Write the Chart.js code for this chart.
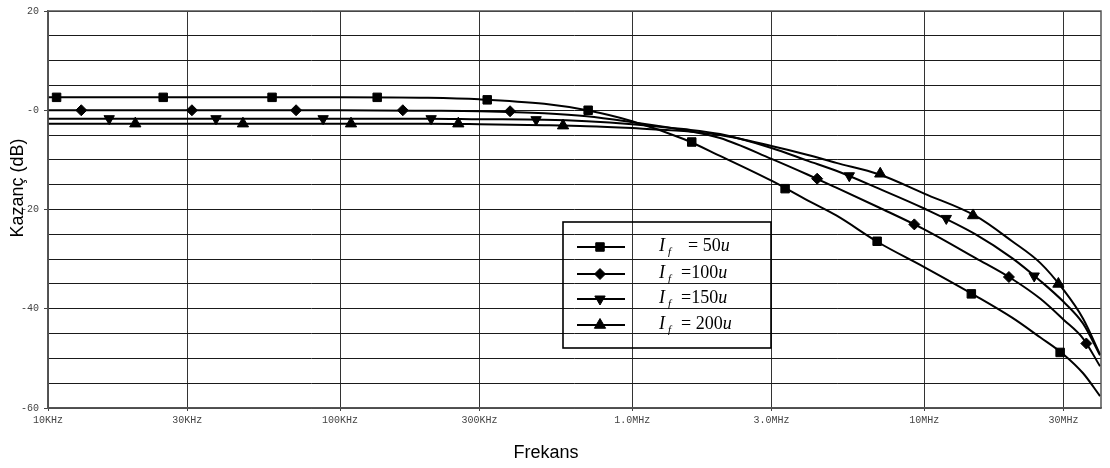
<!DOCTYPE html>
<html><head><meta charset="utf-8">
<script src="https://cdn.jsdelivr.net/npm/chart.js@4.4.1/dist/chart.umd.min.js"></script>
<style>html,body{margin:0;padding:0;background:#fff;}canvas{display:block;}</style>
</head><body>
<canvas id="c" width="1110" height="468"></canvas>
<script>
// ---- data ----
const freq = [1e4, 1e5, 2e5, 3e5, 5e5, 7e5, 1e6, 1.5e6, 2e6, 3e6, 4e6, 5e6, 7e6, 1e7, 1.5e7, 2e7, 2.5e7, 3e7, 3.5e7, 4e7];
const gain50  = [2.6, 2.6, 2.5, 2.2, 1.3, 0.0, -2.2, -5.8, -9.2, -14.2, -18.2, -21.2, -26.7, -31.6, -37.4, -41.8, -45.8, -49.2, -53.0, -57.6];
const gain100 = [0, 0, -0.1, -0.2, -0.6, -1.2, -2.4, -4.0, -5.6, -9.8, -13.0, -15.6, -19.6, -24.0, -29.8, -34.0, -38.0, -42.2, -46.0, -51.6];
const gain150 = [-1.7, -1.7, -1.7, -1.8, -1.9, -2.2, -2.8, -3.8, -4.8, -7.6, -10.2, -12.2, -15.8, -19.8, -25.0, -29.8, -34.4, -38.6, -43.0, -49.4];
const gain200 = [-2.7, -2.7, -2.7, -2.8, -3.0, -3.2, -3.6, -4.2, -5.0, -7.2, -9.0, -10.6, -12.9, -16.8, -21.3, -26.4, -30.8, -36.2, -42.0, -49.2];

const mark50F  = [10.7e3, 24.8e3, 58.5e3, 134e3, 319e3, 707e3, 1.6e6, 3.34e6, 6.9e6, 14.5e6, 29.2e6];
const mark50G  = [2.6, 2.6, 2.6, 2.6, 2.1, 0.0, -6.4, -15.8, -26.4, -37.0, -48.8];
const mark100F = [13e3, 31.1e3, 70.7e3, 164e3, 382e3, 4.3e6, 9.25e6, 19.5e6, 35.9e6];
const mark100G = [0, 0, 0, 0, -0.2, -13.8, -23.0, -33.6, -47.0];
const mark150F = [16.2e3, 37.6e3, 87.5e3, 205e3, 469e3, 5.54e6, 11.9e6, 23.8e6];
const mark150G = [-1.7, -1.7, -1.7, -1.7, -1.9, -13.2, -21.8, -33.4];
const mark200F = [19.9e3, 46.5e3, 109e3, 254e3, 580e3, 7.07e6, 14.7e6, 28.8e6];
const mark200G = [-2.7, -2.7, -2.7, -2.7, -3.1, -12.8, -21.2, -35.0];

const tickFreqs  = [1e4, 3e4, 1e5, 3e5, 1e6, 3e6, 1e7, 3e7];
const tickLabels = ['10KHz', '30KHz', '100KHz', '300KHz', '1.0MHz', '3.0MHz', '10MHz', '30MHz'];
const legendEq   = ['= 50', '=100', '=150', '= 200'];
const xTitle = 'Frekans';
const yTitle = 'Kazanç (dB)';

// ---- chart ----
const styles = [
  {pointStyle: 'rect', radius: 6, rotation: 0},
  {pointStyle: 'rectRot', radius: 5.5, rotation: 0},
  {pointStyle: 'triangle', radius: 6, rotation: 180},
  {pointStyle: 'triangle', radius: 6.5, rotation: 0}
];
const curves = [gain50, gain100, gain150, gain200];
const marks = [[mark50F, mark50G], [mark100F, mark100G], [mark150F, mark150G], [mark200F, mark200G]];

const datasets = [];
curves.forEach((g) => {
  datasets.push({
    data: freq.map((f, i) => ({x: f, y: g[i]})),
    borderColor: '#000', borderWidth: 2, pointRadius: 0,
    cubicInterpolationMode: 'monotone', fill: false
  });
});
marks.forEach((m, k) => {
  datasets.push({
    data: m[0].map((f, i) => ({x: f, y: m[1][i]})),
    showLine: false,
    pointStyle: styles[k].pointStyle, pointRadius: styles[k].radius,
    pointRotation: styles[k].rotation,
    pointBackgroundColor: '#000', pointBorderColor: '#000', pointBorderWidth: 1
  });
});

function drawMarker(ctx, st, x, y) {
  ctx.save();
  ctx.translate(x, y);
  ctx.rotate(st.rotation * Math.PI / 180);
  ctx.beginPath();
  const r = st.radius;
  if (st.pointStyle === 'rect') {
    const s = Math.SQRT1_2 * r;
    ctx.rect(-s, -s, 2 * s, 2 * s);
  } else if (st.pointStyle === 'rectRot') {
    ctx.moveTo(0, -r); ctx.lineTo(r, 0); ctx.lineTo(0, r); ctx.lineTo(-r, 0); ctx.closePath();
  } else {
    for (let i = 0; i < 3; i++) {
      const a = i * 2 * Math.PI / 3;
      const px = Math.sin(a) * r, py = -Math.cos(a) * r;
      if (i === 0) ctx.moveTo(px, py); else ctx.lineTo(px, py);
    }
    ctx.closePath();
  }
  ctx.fillStyle = '#000'; ctx.fill();
  ctx.strokeStyle = '#000'; ctx.lineWidth = 1; ctx.stroke();
  ctx.restore();
}

const extras = {
  id: 'extras',
  afterDraw(chart) {
    const ctx = chart.ctx;
    const a = chart.chartArea;
    ctx.save();
    // frame
    ctx.strokeStyle = '#555'; ctx.lineWidth = 1.5;
    ctx.strokeRect(a.left, a.top, a.right - a.left, a.bottom - a.top);
    // axis titles
    ctx.fillStyle = '#000';
    ctx.font = '18px "Liberation Sans", Arial, sans-serif';
    ctx.textAlign = 'center'; ctx.textBaseline = 'alphabetic';
    ctx.fillText(xTitle, 546, 458);
    ctx.save();
    ctx.translate(23, 188); ctx.rotate(-Math.PI / 2);
    ctx.fillText(yTitle, 0, 0);
    ctx.restore();
    // legend box
    ctx.strokeStyle = '#000'; ctx.lineWidth = 1.6;
    ctx.strokeRect(563, 222, 208, 126);
    const rows = [247, 274, 299, 325];
    const eqX = [688, 681, 681, 681];
    rows.forEach((ry, k) => {
      ctx.strokeStyle = '#000'; ctx.lineWidth = 2;
      ctx.beginPath(); ctx.moveTo(577, ry); ctx.lineTo(625, ry); ctx.stroke();
      drawMarker(ctx, styles[k], 600, ry);
      const base = ry + 4;
      ctx.fillStyle = '#000';
      ctx.textAlign = 'left'; ctx.textBaseline = 'alphabetic';
      ctx.font = 'italic 18px "Liberation Serif", "Times New Roman", serif';
      ctx.fillText('I', 659, base);
      ctx.font = 'italic 11px "Liberation Serif", "Times New Roman", serif';
      ctx.fillText('f', 668, base + 4);
      ctx.font = '18px "Liberation Serif", "Times New Roman", serif';
      ctx.fillText(legendEq[k], eqX[k], base);
      const w = ctx.measureText(legendEq[k]).width;
      ctx.font = 'italic 18px "Liberation Serif", "Times New Roman", serif';
      ctx.fillText('u', eqX[k] + w, base);
    });
    ctx.restore();
  }
};

new Chart(document.getElementById('c'), {
  type: 'line',
  data: {datasets},
  options: {
    responsive: false, animation: false, devicePixelRatio: 1,
    layout: {padding: {top: 8, right: 9, left: 0, bottom: 0}},
    plugins: {legend: {display: false}, tooltip: {enabled: false}},
    scales: {
      x: {
        type: 'logarithmic', min: 1e4, max: 4.03e7,
        afterBuildTicks: (s) => { s.ticks = tickFreqs.map(v => ({value: v})); },
        afterFit: (s) => { s.height = 60; },
        ticks: {
          autoSkip: false, maxRotation: 0, minRotation: 0, padding: 3,
          color: '#444', font: {family: '"Liberation Mono", "Courier New", monospace', size: 10},
          callback: (v, i) => tickLabels[i]
        },
        grid: {color: '#333', lineWidth: 1, tickLength: 3, tickColor: '#444'},
        border: {color: '#555', width: 1.5}
      },
      y: {
        min: -60, max: 20,
        afterFit: (s) => { s.width = 48; },
        ticks: {
          stepSize: 5, padding: 5, color: '#444',
          font: {family: '"Liberation Mono", "Courier New", monospace', size: 10},
          callback: (v) => (v === 0 ? '-0' : (v % 20 === 0 ? String(v) : ''))
        },
        grid: {
          color: '#1a1a1a', lineWidth: 1, tickLength: 4,
          tickColor: (c) => (c.tick && c.tick.value % 20 === 0 ? '#444' : 'rgba(0,0,0,0)')
        },
        border: {color: '#555', width: 1.5}
      }
    }
  },
  plugins: [extras]
});
</script>
</body></html>
